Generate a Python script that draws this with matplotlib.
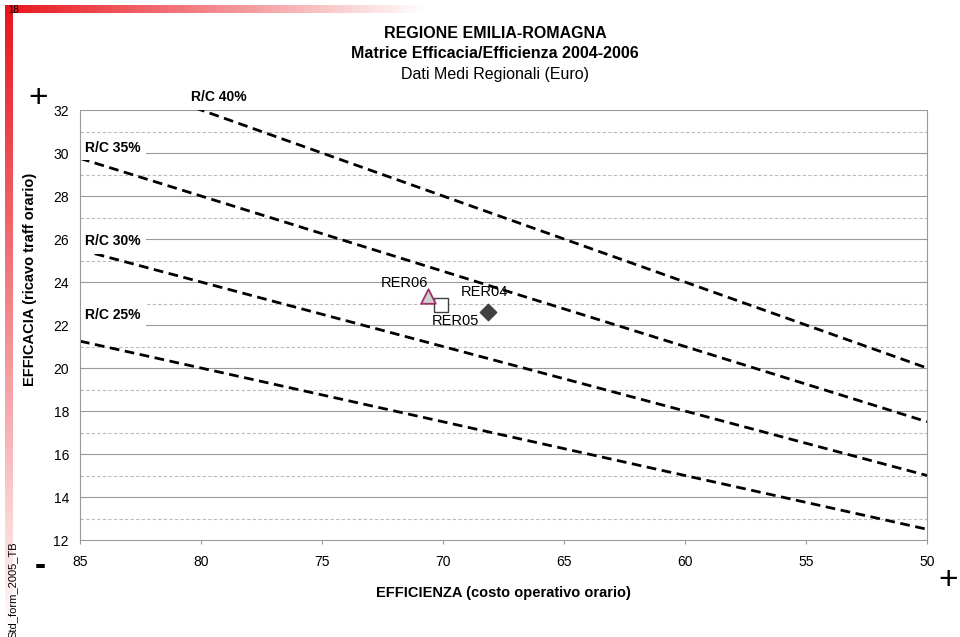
import numpy as np
import matplotlib
matplotlib.use("Agg")
import matplotlib.pyplot as plt

plt.rcParams['font.family'] = ['Liberation Sans', 'DejaVu Sans']

# R/C iso-lines: efficacia at efficienza 85 and 50
line_x = [85, 50]
rc_labels = ["R/C 25%", "R/C 30%", "R/C 35%", "R/C 40%"]
rc_y85 = [21.25, 25.5, 29.75, 34.0]
rc_y50 = [12.5, 15.0, 17.5, 20.0]

# points
names = ["RER04", "RER05", "RER06"]
eff_x = [68.15, 70.1, 70.6]
eff_y = [22.6, 22.95, 23.35]

fig = plt.figure(figsize=(9.6, 6.37), dpi=100)

# red gradient border
red = matplotlib.colors.LinearSegmentedColormap.from_list('r', ['white', '#e8141c'])
top = fig.add_axes([5/960, 1 - 13/637, 420/960, 8/637])
top.imshow(np.linspace(1, 0, 256).reshape(1, -1), aspect='auto', cmap=red)
top.axis('off')
left = fig.add_axes([5/960, 0, 8/960, 1 - 5/637])
left.imshow(np.linspace(1, 0.05, 256).reshape(-1, 1), aspect='auto', cmap=red)
left.axis('off')
fig.text(8/960, 1 - 10/637, "18", fontsize=7, va='center', ha='left')
fig.text(13/960, 47/637, "Std_form_2005_TB", fontsize=8, rotation=90,
         ha='center', va='center')

ax = fig.add_axes([80/960, 1 - 540/637, 847/960, 430/637])
ax.set_xlim(85, 50)
ax.set_ylim(12, 32)

for y in range(13, 32, 2):
    ax.axhline(y, color='#bbbbbb', lw=0.8, ls=(0, (3, 2)), zorder=0)
for y in range(14, 33, 2):
    ax.axhline(y, color='#999999', lw=0.8, zorder=0)

for i in range(len(rc_labels)):
    ax.plot(line_x, [rc_y85[i], rc_y50[i]], color='black', lw=2,
            ls=(0, (3.5, 2)), zorder=2)

lab_pos = [(84.8, 22.45), (84.8, 25.9), (84.8, 30.25), (80.4, 32.6)]
for lab, (lx, ly) in zip(rc_labels, lab_pos):
    ax.text(lx, ly, lab, fontsize=10, fontweight='bold', ha='left', va='center',
            bbox=dict(facecolor='white', edgecolor='none', pad=4), zorder=3,
            clip_on=False)

ax.scatter([eff_x[0]], [eff_y[0]], marker='D', s=70, color='#404040', zorder=4)
ax.scatter([eff_x[1]], [eff_y[1]], marker='s', s=110, facecolor='white',
           edgecolor='#404040', lw=1, zorder=4)
ax.scatter([eff_x[2]], [eff_y[2]], marker='^', s=110, facecolor='#d0d0d0',
           edgecolor='#a0306a', lw=1.3, zorder=5)
ax.text(68.3, 23.55, names[0], fontsize=10.5, ha='center', va='center', zorder=6)
ax.text(69.5, 22.2, names[1], fontsize=10.5, ha='center', va='center', zorder=6)
ax.text(71.6, 23.95, names[2], fontsize=10.5, ha='center', va='center', zorder=6)

ax.set_xticks(range(85, 49, -5))
ax.set_yticks(range(12, 33, 2))
ax.tick_params(labelsize=10, length=3, color='#999999', pad=8)
ax.tick_params(axis='y', pad=8, length=0)
for s in ax.spines.values():
    s.set_color('#999999')
    s.set_zorder(7)
ax.spines['top'].set_visible(False)

ax.set_xlabel("EFFICIENZA (costo operativo orario)", fontsize=10.5, fontweight='bold', labelpad=12)
ax.set_ylabel("EFFICACIA (ricavo traff orario)", fontsize=10.5, fontweight='bold')
ax.yaxis.set_label_coords(-0.051, 0.605)

fig.text(495/960, 1 - 33/637, "REGIONE EMILIA-ROMAGNA", fontsize=11.5, fontweight='bold', ha='center', va='center')
fig.text(495/960, 1 - 53/637, "Matrice Efficacia/Efficienza 2004-2006", fontsize=11.5, fontweight='bold', ha='center', va='center')
fig.text(495/960, 1 - 74/637, "Dati Medi Regionali (Euro)", fontsize=11.5, ha='center', va='center')

fig.text(38/960, 1 - 98/637, "+", fontsize=24, ha='center', va='center')
fig.text(948/960, 1 - 580/637, "+", fontsize=24, ha='center', va='center')
fig.text(40/960, 1 - 566/637, "-", fontsize=24, fontweight='bold', ha='center', va='center')

fig.savefig("out.png", dpi=100)
